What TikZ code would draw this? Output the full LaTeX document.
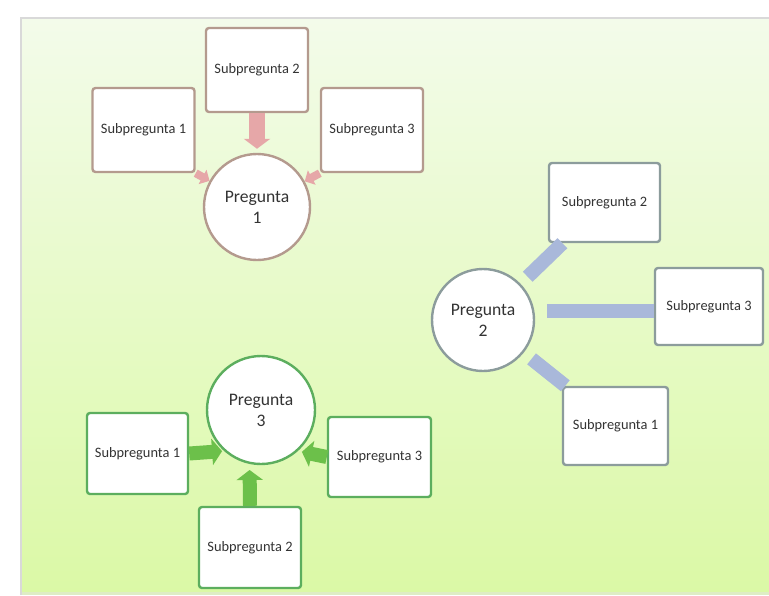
\documentclass[tikz,border=0pt]{standalone}
\usepackage{fontspec}
\setmainfont{Carlito}
\usetikzlibrary{arrows.meta}
\definecolor{bgtop}{HTML}{F3FBEA}
\definecolor{bgbot}{HTML}{DBF9A6}
\definecolor{redln}{HTML}{B49A8E}
\definecolor{redar}{HTML}{E6A7A8}
\definecolor{bluln}{HTML}{8C9C9C}
\definecolor{bluar}{HTML}{A9B8DA}
\definecolor{grnln}{HTML}{5CAE5E}
\definecolor{grnar}{HTML}{6CC04A}
\definecolor{txt}{HTML}{333333}
\tikzset{
  subbox/.style={draw, rounded corners=1.5pt, line width=1.2pt, fill=white,
    font=\fontsize{7.2}{8.5}\selectfont, text=txt, inner sep=1pt},
  qcirc/.style={circle, draw, line width=1.2pt, fill=white, inner sep=0pt,
    align=center, font=\fontsize{8.8}{10.5}\selectfont, text=txt},
  redbox/.style={subbox, draw=redln},
  blubox/.style={subbox, draw=bluln},
  grnbox/.style={subbox, draw=grnln},
  blockarrow/.style={line width=7pt, -{Triangle[length=5pt,width=13pt]}},
  redarrow/.style={blockarrow, draw=redar},
  smallred/.style={line width=4pt, draw=redar, -{Triangle[length=4pt,width=8pt]}},
  blubar/.style={line width=7pt, draw=bluar},
  grnarrow/.style={blockarrow, draw=grnar}
}
\begin{document}
\begin{tikzpicture}[x=0.5pt,y=-0.5pt]
\useasboundingbox (0,0) rectangle (769,595);
\fill[white] (0,0) rectangle (769,595);
\shade[top color=bgtop, bottom color=bgbot] (22,19) rectangle (769,592);
\fill[bgbot!80!gray!60] (22,592) rectangle (769,595);
\draw[black!15, line width=1.2pt] (21,595) -- (21,18) -- (769,18);

% group 1 (red)
\node[qcirc, draw=redln, minimum size=53pt] (c1) at (257,207) {Pregunta\\1};
\node[redbox, minimum width=51pt, minimum height=42pt] (t1) at (143.5,130) {Subpregunta 1};
\node[redbox, minimum width=51pt, minimum height=42pt] (t2) at (257,70) {Subpregunta 2};
\node[redbox, minimum width=51pt, minimum height=42pt] (t3) at (372,130) {Subpregunta 3};
\draw[redarrow, line width=8pt, shorten >=2pt] (t2.south) -- (c1.north);
\draw[smallred] (t1.south east) -- (c1);
\draw[smallred] (t3.south west) -- (c1);

% group 2 (blue)
\node[qcirc, draw=bluln, minimum size=51pt] (c2) at (483,320) {Pregunta\\2};
\node[blubox, minimum width=55.5pt, minimum height=39.5pt] (r2) at (604.5,202.5) {Subpregunta 2};
\node[blubox, minimum width=54pt, minimum height=38.5pt] (r3) at (709,306.5) {Subpregunta 3};
\node[blubox, minimum width=52.5pt, minimum height=39pt] (r1) at (615.5,426) {Subpregunta 1};
\draw[blubar, shorten >=5pt] (r2) -- (c2);
\draw[blubar, shorten >=6.5pt] (c2.10 -| r3.west) -- (c2.10);
\draw[blubar, shorten >=5pt] (r1) -- (c2);

% group 3 (green)
\node[qcirc, draw=grnln, minimum size=54pt] (c3) at (261,410) {Pregunta\\3};
\node[grnbox, minimum width=50.5pt, minimum height=40.5pt] (b1) at (137.5,453.5) {Subpregunta 1};
\node[grnbox, minimum width=51.5pt, minimum height=40pt] (b3) at (379.5,457) {Subpregunta 3};
\node[grnbox, minimum width=51pt, minimum height=40.5pt] (b2) at (250,547.5) {Subpregunta 2};
\draw[grnarrow, shorten >=1pt] (b1.east) -- (c3.228);
\draw[grnarrow, shorten >=2pt] (b3.west) -- (c3.-48);
\draw[grnarrow, shorten >=3pt] (b2.north) -- (c3.258);
\end{tikzpicture}
\end{document}
